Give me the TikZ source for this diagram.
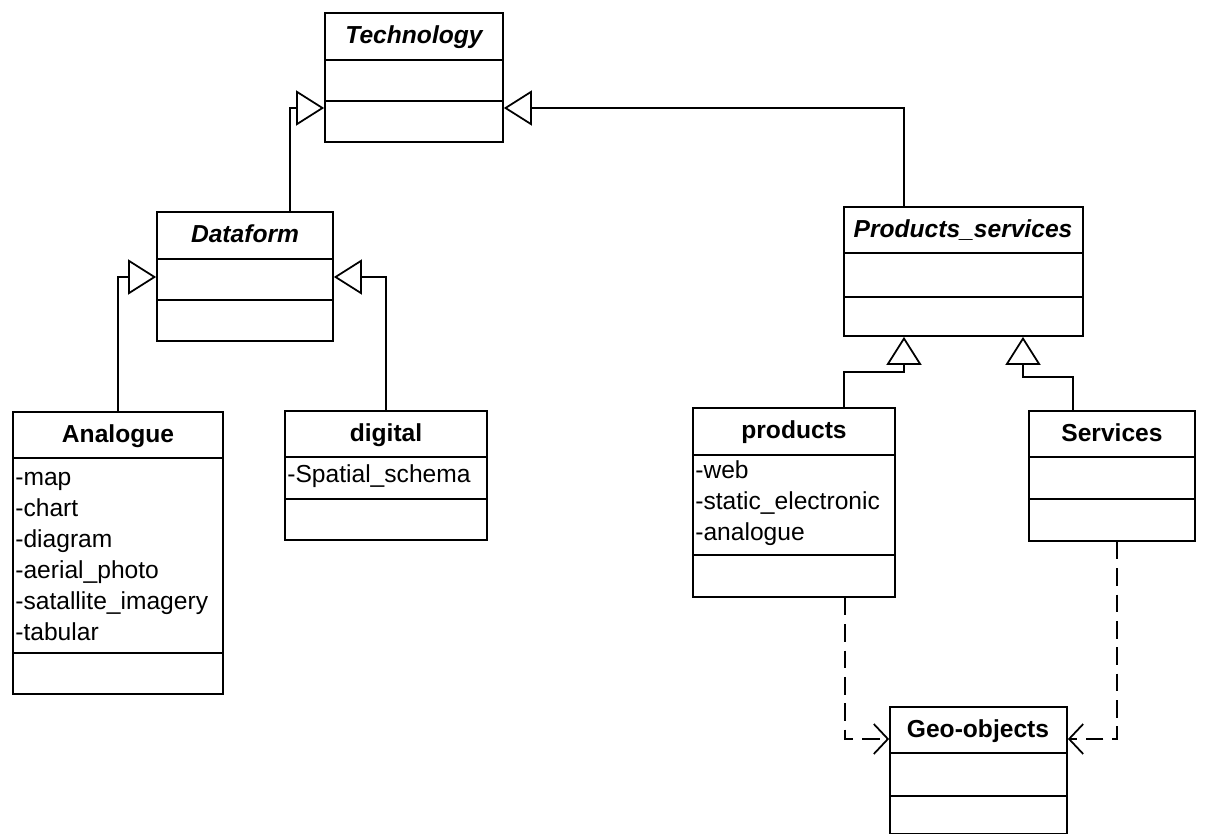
\documentclass[tikz,border=0pt]{standalone}
\usepackage{fontspec}
\setsansfont{Liberation Sans}
\usetikzlibrary{fit}
\usetikzlibrary{arrows.meta}

\begin{document}
\begin{tikzpicture}[x=0.02cm, y=-0.02cm,
    font=\sffamily\fontsize{14}{17}\selectfont,
    classbox/.style={draw, line width=1pt, inner sep=0pt},
    classname/.style={anchor=base, inner sep=0pt, font=\sffamily\bfseries\fontsize{14}{17}\selectfont},
    abstractname/.style={classname, font=\sffamily\bfseries\itshape\fontsize{14}{17}\selectfont},
    attr/.style={anchor=base west, inner sep=0pt},
    gen/.style={line width=1pt, -{Triangle[open, length=16pt, width=20pt]}},
    dep/.style={line width=1pt, dash pattern=on 10pt off 5pt,
                -{Straight Barb[length=8pt, width=17pt]}}]
    \useasboundingbox (0,0) rectangle (1205,834);

    \node[classbox, fit={(325,13) (503,142)}] (tech) {};
    \node[abstractname] (tech-name) at (414,44) {Technology};
    \draw[line width=1pt] (tech.west |- 0,60) -- (tech.east |- 0,60)
                          (tech.west |- 0,101) -- (tech.east |- 0,101);

    \node[classbox, fit={(157,212) (333,341)}] (data) {};
    \node[abstractname] (data-name) at (245,243) {Dataform};
    \draw[line width=1pt] (data.west |- 0,259) -- (data.east |- 0,259)
                          (data.west |- 0,300) -- (data.east |- 0,300);

    \node[classbox, fit={(844,207) (1083,336)}] (ps) {};
    \node[abstractname] (ps-name) at (963,238) {Products\_services};
    \draw[line width=1pt] (ps.west |- 0,253) -- (ps.east |- 0,253)
                          (ps.west |- 0,297) -- (ps.east |- 0,297);

    \node[classbox, fit={(13,412) (223,694)}] (ana) {};
    \node[classname] (ana-name) at (118,443) {Analogue};
    \draw[line width=1pt] (ana.west |- 0,458) -- (ana.east |- 0,458)
                          (ana.west |- 0,653) -- (ana.east |- 0,653);
    \foreach \attrtext [count=\i from 0] in {map, chart, diagram, aerial\_photo, satallite\_imagery, tabular}
        \node[attr] (ana-attr\i) at (15,486+31*\i) {-\attrtext};

    \node[classbox, fit={(285,411) (487,540)}] (dig) {};
    \node[classname] (dig-name) at (386,442) {digital};
    \draw[line width=1pt] (dig.west |- 0,457) -- (dig.east |- 0,457)
                          (dig.west |- 0,499) -- (dig.east |- 0,499);
    \node[attr] (dig-attr) at (287,483) {-Spatial\_schema};

    \node[classbox, fit={(693,408) (895,597)}] (prod) {};
    \node[classname] (prod-name) at (794,439) {products};
    \draw[line width=1pt] (prod.west |- 0,455) -- (prod.east |- 0,455)
                          (prod.west |- 0,555) -- (prod.east |- 0,555);
    \foreach \attrtext [count=\i from 0] in {web, static\_electronic, analogue}
        \node[attr] (prod-attr\i) at (695,479+31*\i) {-\attrtext};

    \node[classbox, fit={(1029,411) (1195,541)}] (serv) {};
    \node[classname] (serv-name) at (1112,442) {Services};
    \draw[line width=1pt] (serv.west |- 0,457) -- (serv.east |- 0,457)
                          (serv.west |- 0,499) -- (serv.east |- 0,499);

    \node[classbox, fit={(890,707) (1067,834)}] (geo) {};
    \node[classname] (geo-name) at (978,738) {Geo-objects};
    \draw[line width=1pt] (geo.west |- 0,753) -- (geo.east |- 0,753)
                          (geo.west |- 0,796) -- (geo.east |- 0,796);

    \draw[gen] (data.north -| 290,0) |- (tech.west |- 0,108);
    \draw[gen] (ps.north -| 904,0) |- (tech.east |- 0,108);
    \draw[gen] (ana.north -| 118,0) |- (data.west |- 0,277);
    \draw[gen] (dig.north -| 386,0) |- (data.east |- 0,277);
    \draw[gen] (prod.north -| 844,0) |- (904,372) -- (ps.south -| 904,0);
    \draw[gen] (serv.north -| 1073,0) |- (1023,377) -- (ps.south -| 1023,0);
    \draw[dep] (prod.south -| 845,0) |- (geo.west |- 0,739);
    \draw[dep] (serv.south -| 1117,0) |- (geo.east |- 0,739);
\end{tikzpicture}
\end{document}
